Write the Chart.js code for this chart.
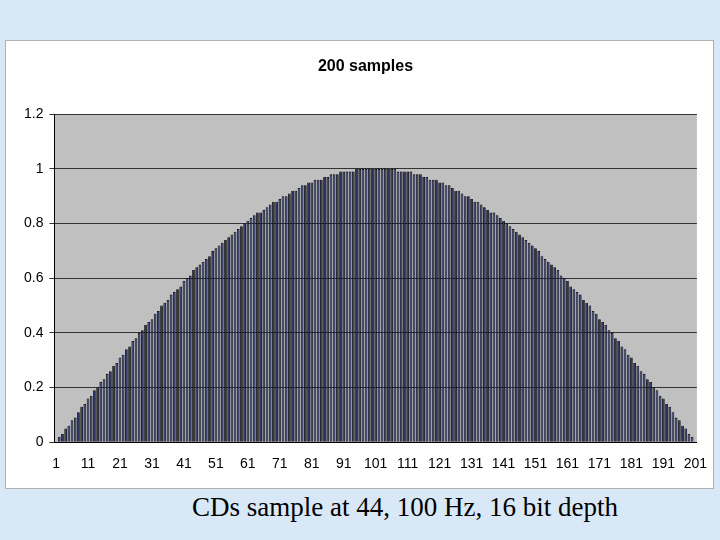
<!DOCTYPE html>
<html>
<head>
<meta charset="utf-8">
<script src="https://cdn.jsdelivr.net/npm/chart.js@4"></script>
<style>
  html, body { margin: 0; padding: 0; }
  body { width: 720px; height: 540px; background: #d9e8f7; position: relative; overflow: hidden; font-family: "Liberation Sans", Arial, sans-serif; }
  #panel { position: absolute; left: 5px; top: 40px; width: 707px; height: 447px; background: #fff; border: 1px solid #b0b0b0; }
  #caption { position: absolute; left: 0; width: 810px; top: 492px; text-align: center; font-family: "Liberation Serif", "Times New Roman", serif; font-size: 27px; color: #000; }
</style>
</head>
<body>
<div id="panel"><canvas id="c" width="707" height="447"></canvas></div>
<div id="caption">CDs sample at 44, 100 Hz, 16 bit depth</div>
<script>
// Sample index 1..201
const sampleLabels = [];
for (let i = 1; i <= 201; i++) sampleLabels.push(String(i));

// Amplitude (half-wave rising then falling)
const amplitude = [
  0.00, 0.02, 0.03, 0.05, 0.06, 0.08, 0.09, 0.11, 0.13, 0.14,
  0.16, 0.17, 0.19, 0.20, 0.22, 0.23, 0.25, 0.26, 0.28, 0.29,
  0.31, 0.32, 0.34, 0.35, 0.37, 0.38, 0.40, 0.41, 0.43, 0.44,
  0.45, 0.47, 0.48, 0.50, 0.51, 0.52, 0.54, 0.55, 0.56, 0.57,
  0.59, 0.60, 0.61, 0.63, 0.64, 0.65, 0.66, 0.67, 0.68, 0.70,
  0.71, 0.72, 0.73, 0.74, 0.75, 0.76, 0.77, 0.78, 0.79, 0.80,
  0.81, 0.82, 0.83, 0.84, 0.84, 0.85, 0.86, 0.87, 0.88, 0.88,
  0.89, 0.90, 0.90, 0.91, 0.92, 0.92, 0.93, 0.94, 0.94, 0.95,
  0.95, 0.96, 0.96, 0.96, 0.97, 0.97, 0.98, 0.98, 0.98, 0.99,
  0.99, 0.99, 0.99, 0.99, 1.00, 1.00, 1.00, 1.00, 1.00, 1.00,
  1.00,
  1.00, 1.00, 1.00, 1.00, 1.00, 1.00, 0.99, 0.99, 0.99, 0.99,
  0.99, 0.98, 0.98, 0.98, 0.97, 0.97, 0.96, 0.96, 0.96, 0.95,
  0.95, 0.94, 0.94, 0.93, 0.92, 0.92, 0.91, 0.90, 0.90, 0.89,
  0.88, 0.88, 0.87, 0.86, 0.85, 0.84, 0.84, 0.83, 0.82, 0.81,
  0.80, 0.79, 0.78, 0.77, 0.76, 0.75, 0.74, 0.73, 0.72, 0.71,
  0.70, 0.68, 0.67, 0.66, 0.65, 0.64, 0.63, 0.61, 0.60, 0.59,
  0.57, 0.56, 0.55, 0.54, 0.52, 0.51, 0.50, 0.48, 0.47, 0.45,
  0.44, 0.43, 0.41, 0.40, 0.38, 0.37, 0.35, 0.34, 0.32, 0.31,
  0.29, 0.28, 0.26, 0.25, 0.23, 0.22, 0.20, 0.19, 0.17, 0.16,
  0.14, 0.13, 0.11, 0.09, 0.08, 0.06, 0.05, 0.03, 0.02, 0.00
];

// Fond gris de la zone de tracé
const plotBackground = {
  id: "plotBackground",
  beforeDraw(chart) {
    const { ctx, chartArea: a } = chart;
    ctx.save();
    ctx.fillStyle = "#c0c0c0";
    ctx.fillRect(a.left, a.top, a.right - a.left, a.bottom - a.top);
    ctx.restore();
  }
};

new Chart(document.getElementById("c"), {
  type: "bar",
  data: {
    labels: sampleLabels,
    datasets: [{
      data: amplitude,
      backgroundColor: "#2c3466",
      borderColor: "#000000",
      borderWidth: 0.8,
      barPercentage: 1,
      categoryPercentage: 0.85
    }]
  },
  options: {
    responsive: false,
    animation: false,
    layout: { padding: { left: 12, right: 0, top: 8, bottom: 9 } },
    plugins: {
      legend: { display: false },
      tooltip: { enabled: false },
      title: {
        display: true,
        text: "200 samples",
        color: "#000",
        font: { family: "'Liberation Sans', Arial, sans-serif", size: 16, weight: "bold" },
        padding: { top: 8, bottom: 38 }
      }
    },
    scales: {
      x: {
        grid: { display: false },
        border: { color: "#000" },
        ticks: {
          color: "#000",
          font: { family: "'Liberation Sans', Arial, sans-serif", size: 14 },
          autoSkip: false,
          maxRotation: 0,
          padding: 6,
          callback: function(value, index) {
            return index % 10 === 0 ? this.getLabelForValue(value) : "";
          }
        }
      },
      y: {
        min: 0,
        max: 1.2,
        grid: { color: "#333", drawTicks: true, tickLength: 5 },
        border: { color: "#000" },
        ticks: {
          stepSize: 0.2,
          color: "#000",
          padding: 6,
          font: { family: "'Liberation Sans', Arial, sans-serif", size: 14 },
          callback: v => Math.round(v * 10) / 10
        }
      }
    }
  },
  plugins: [plotBackground]
});
</script>
</body>
</html>
